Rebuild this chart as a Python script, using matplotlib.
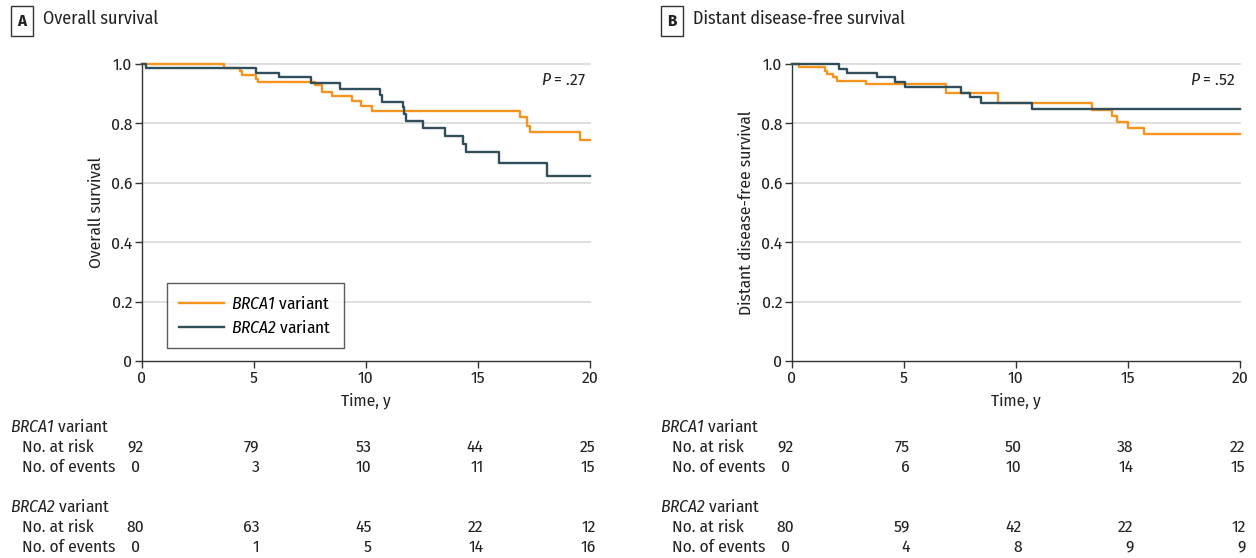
import matplotlib
matplotlib.use("Agg")
import matplotlib.pyplot as plt
from matplotlib import font_manager as fm
from matplotlib.lines import Line2D
from matplotlib.transforms import blended_transform_factory


def pick_font(cands):
    for c in cands:
        try:
            fm.findfont(fm.FontProperties(family=c), fallback_to_default=False)
            return c
        except ValueError:
            pass
    return "DejaVu Sans"


FONT = pick_font(["Fira Sans Condensed", "Source Sans 3", "Roboto Condensed",
                  "Archivo Narrow", "Barlow Semi Condensed", "Liberation Sans"])
plt.rcParams.update({
    "font.family": [FONT, "DejaVu Sans"],
    "font.size": 12.5,
    "mathtext.fontset": "custom",
    "mathtext.rm": FONT,
    "mathtext.it": FONT + ":italic",
    # italic gene names incl. digits -> use the sf slot
    "mathtext.sf": FONT + ":italic",
})

ORANGE = "#F7941E"
TEAL = "#2F4F5C"
SPINE = "#333333"
TXT = "#222222"

# ---- data ----
# panel A: overall survival
os_brca1_t = [0, 3.66, 4.38, 4.45, 5.09, 5.19, 7.72, 8.02, 8.5, 9.36, 9.76, 10.28, 16.88, 17.2, 17.3, 19.55, 20]
os_brca1_s = [1.0, 0.987, 0.975, 0.963, 0.951, 0.938, 0.929, 0.907, 0.892, 0.875, 0.860, 0.843, 0.820, 0.791, 0.772, 0.744, 0.744]
os_brca2_t = [0, 0.2, 5.09, 6.13, 7.53, 8.84, 10.63, 10.7, 11.64, 11.7, 11.77, 12.53, 13.53, 14.35, 14.46, 15.95, 18.1, 20]
os_brca2_s = [1.0, 0.985, 0.971, 0.955, 0.937, 0.917, 0.895, 0.873, 0.854, 0.832, 0.808, 0.783, 0.758, 0.730, 0.705, 0.668, 0.623, 0.623]

# panel B: distant disease-free survival
dfs_brca1_t = [0, 0.33, 1.47, 1.58, 1.82, 2.0, 3.3, 6.88, 9.21, 13.38, 14.27, 14.5, 15.01, 15.71, 20]
dfs_brca1_s = [1.0, 0.989, 0.977, 0.966, 0.955, 0.944, 0.933, 0.901, 0.868, 0.845, 0.826, 0.806, 0.783, 0.763, 0.763]
dfs_brca2_t = [0, 2.11, 2.47, 3.81, 4.6, 5.04, 7.53, 7.95, 8.44, 10.7, 20]
dfs_brca2_s = [1.0, 0.983, 0.969, 0.955, 0.938, 0.924, 0.904, 0.888, 0.870, 0.847, 0.847]

risk_times = [0, 5, 10, 15, 20]
os_brca1_risk = [92, 79, 53, 44, 25]
os_brca1_events = [0, 3, 10, 11, 15]
os_brca2_risk = [80, 63, 45, 22, 12]
os_brca2_events = [0, 1, 5, 14, 16]
dfs_brca1_risk = [92, 75, 50, 38, 22]
dfs_brca1_events = [0, 6, 10, 14, 15]
dfs_brca2_risk = [80, 59, 42, 22, 12]
dfs_brca2_events = [0, 4, 8, 9, 9]

BRCA1_LAB = r"$\mathsf{BRCA1}$ variant"
BRCA2_LAB = r"$\mathsf{BRCA2}$ variant"

panels = [
    dict(letter="A", title="Overall survival", ylabel="Overall survival", p=".27",
         b1=(os_brca1_t, os_brca1_s), b2=(os_brca2_t, os_brca2_s),
         table=[os_brca1_risk, os_brca1_events, os_brca2_risk, os_brca2_events],
         legend=True),
    dict(letter="B", title="Distant disease-free survival", ylabel="Distant disease-free survival", p=".52",
         b1=(dfs_brca1_t, dfs_brca1_s), b2=(dfs_brca2_t, dfs_brca2_s),
         table=[dfs_brca1_risk, dfs_brca1_events, dfs_brca2_risk, dfs_brca2_events],
         legend=False),
]

W, H = 1256, 558
fig = plt.figure(figsize=(W / 100, H / 100), dpi=100)

FS = 12.5
ax_left_px = [142, 792]
for k, pan in enumerate(panels):
    x0 = ax_left_px[k]
    ax = fig.add_axes([x0 / W, (H - 361) / H, 448 / W, 297 / H])
    ax.set_xlim(0, 20)
    ax.set_ylim(0, 1.0)

    for yv in [0.2, 0.4, 0.6, 0.8, 1.0]:
        ax.axhline(yv, color="#DCDCDC", lw=1.3, zorder=0, clip_on=False)

    ax.step(*pan["b1"], where="post", color=ORANGE, lw=1.7, clip_on=False, zorder=3)
    ax.step(*pan["b2"], where="post", color=TEAL, lw=1.7, clip_on=False, zorder=3)

    for s in ["top", "right"]:
        ax.spines[s].set_visible(False)
    for s in ["left", "bottom"]:
        ax.spines[s].set_color(SPINE)
        ax.spines[s].set_linewidth(1.0)
    ax.tick_params(direction="out", length=5, width=1.0, color=SPINE,
                   labelsize=FS, labelcolor=TXT, pad=2)
    ax.set_xticks([0, 5, 10, 15, 20])
    ax.set_yticks([0, 0.2, 0.4, 0.6, 0.8, 1.0])
    ax.set_yticklabels(["0", "0.2", "0.4", "0.6", "0.8", "1.0"])
    ax.set_xlabel("Time, y", fontsize=FS, color=TXT)
    ax.xaxis.set_label_coords(0.5, (361 - 392) / 297)
    ax.set_ylabel(pan["ylabel"], fontsize=FS, color=TXT)
    ax.yaxis.set_label_coords((104 - 142) / 448, 0.5)

    ax.text(19.8, 0.945, r"$\mathsf{P}$ = " + pan["p"], ha="right", va="center",
            fontsize=FS, color=TXT)

    if pan["legend"]:
        handles = [Line2D([0], [0], color=ORANGE, lw=1.7),
                   Line2D([0], [0], color=TEAL, lw=1.7)]
        leg = ax.legend(handles, [BRCA1_LAB, BRCA2_LAB],
                        loc="upper left", bbox_to_anchor=((167 - x0) / 448, (361 - 283) / 297),
                        frameon=True, fancybox=False, fontsize=FS,
                        handlelength=2.6, handletextpad=0.4, borderpad=0.7,
                        labelspacing=0.4, borderaxespad=0)
        leg.get_frame().set_edgecolor(SPINE)
        leg.get_frame().set_linewidth(1.0)

    # panel header
    bx = x0 - 132
    fig.text((bx + 12) / W, 1 - 21 / H, pan["letter"], ha="center", va="center",
             fontsize=12, fontweight="bold", color=TXT,
             bbox=dict(boxstyle="square,pad=0.4", fc="white", ec=SPINE, lw=1.0))
    fig.text((bx + 33) / W, 1 - 19 / H, pan["title"], ha="left", va="center",
             fontsize=13, color=TXT)

    # number at risk table
    tr = blended_transform_factory(ax.transData, fig.transFigure)
    row_y = [427, 447, 467, 507, 527, 547]
    fig.text(bx / W, 1 - row_y[0] / H, BRCA1_LAB, ha="left", va="center",
             fontsize=FS, color=TXT)
    fig.text(bx / W, 1 - row_y[3] / H, BRCA2_LAB, ha="left", va="center",
             fontsize=FS, color=TXT)
    labels = ["No. at risk", "No. of events", "No. at risk", "No. of events"]
    for py, lab, vals in zip([row_y[1], row_y[2], row_y[4], row_y[5]], labels, pan["table"]):
        fig.text((bx + 12) / W, 1 - py / H, lab, ha="left", va="center",
                 fontsize=FS, color=TXT)
        for t, v in zip(risk_times, vals):
            if t == 0:
                ax.text(t - 0.3, 1 - py / H, str(v), transform=tr, ha="center", va="center",
                        fontsize=FS, color=TXT)
            else:
                ax.text(t + 0.25, 1 - py / H, str(v), transform=tr, ha="right", va="center",
                        fontsize=FS, color=TXT)

fig.savefig("out.png", dpi=100)
